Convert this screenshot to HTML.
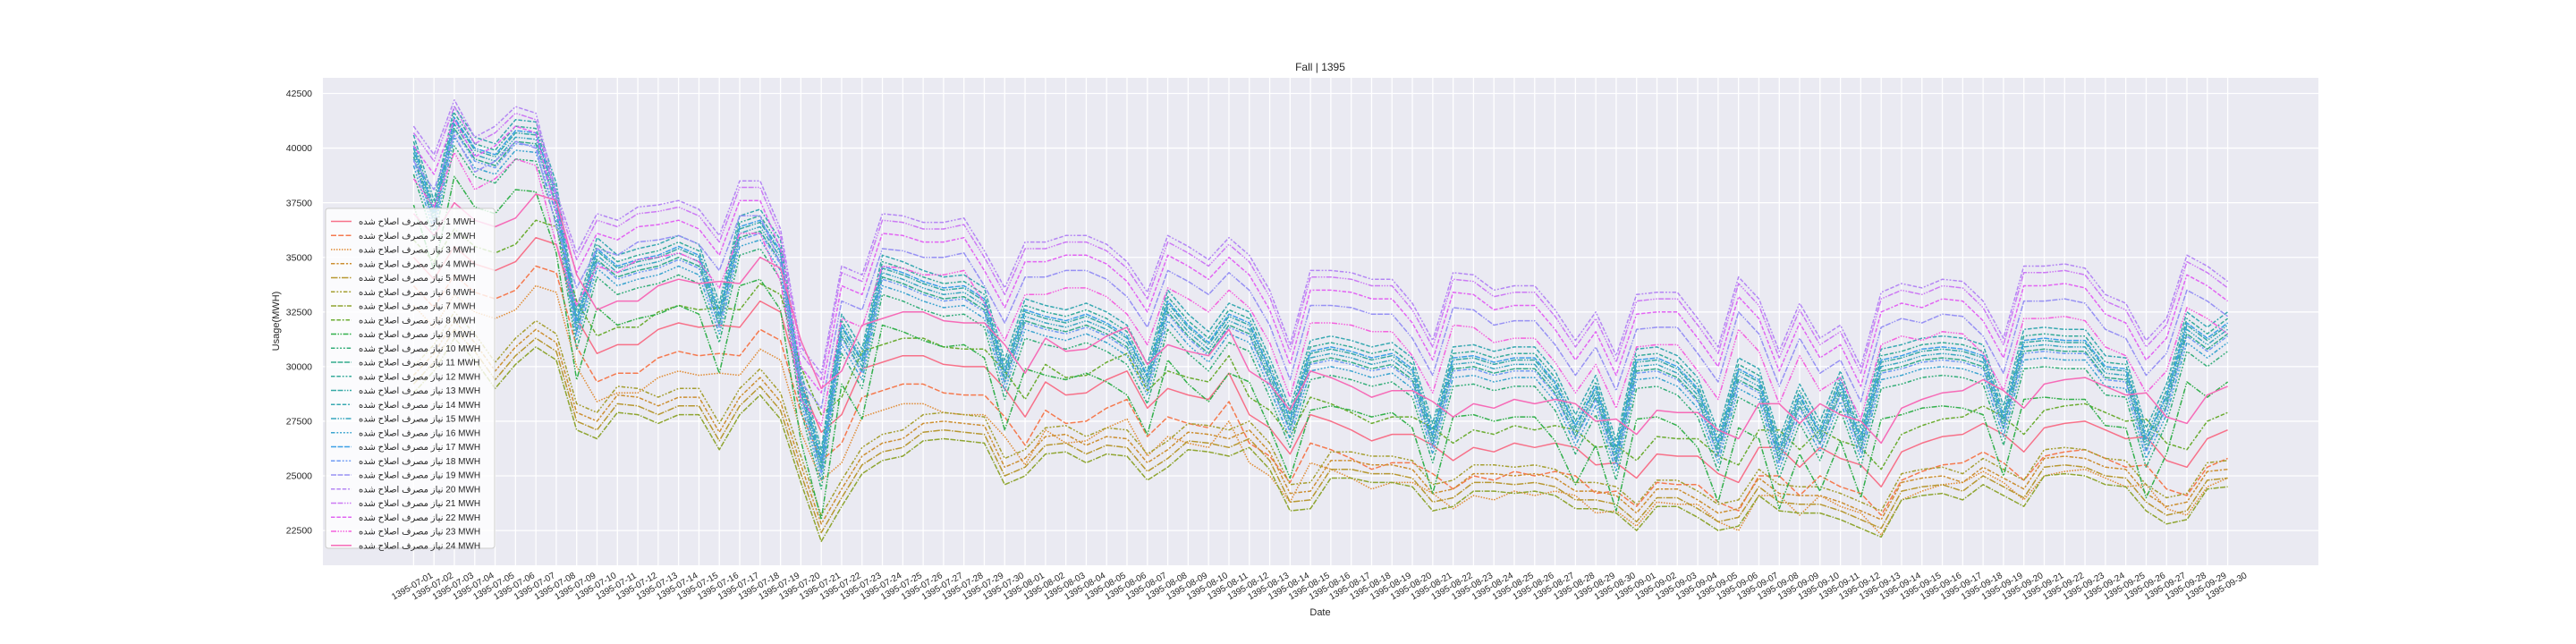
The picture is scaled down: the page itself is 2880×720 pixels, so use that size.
<!DOCTYPE html>
<html><head><meta charset="utf-8"><title>Fall | 1395</title>
<style>
html,body{margin:0;padding:0;background:#fff;}
svg{display:block;font-family:"Liberation Sans","DejaVu Sans",sans-serif;}
</style></head>
<body>
<svg id="chart" width="2880" height="720" viewBox="0 0 2880 720" xmlns="http://www.w3.org/2000/svg">
<rect x="0" y="0" width="2880" height="720" fill="#ffffff"/>
<rect id="plotbg" x="361" y="87" width="2231" height="545" fill="#eaeaf2"/>
<g id="grid"></g>
<g id="series"></g>
<g id="yticks"></g>
<g id="xticks"></g>
<text x="1476" y="79" text-anchor="middle" font-size="12" fill="#262626">Fall | 1395</text>
<text x="1476" y="688" text-anchor="middle" font-size="11" fill="#262626">Date</text>
<text x="312" y="359" text-anchor="middle" font-size="11" fill="#262626" transform="rotate(-90 312 359)">Usage(MWH)</text>
<g id="legend"></g>
</svg>
<script>
const yTicks = [22500, 25000, 27500, 30000, 32500, 35000, 37500, 40000, 42500];
const seriesLabels = ["1","2","3","4","5","6","7","8","9","10","11","12","13","14","15","16","17","18","19","20","21","22","23","24"];
const h1 = [35.0,34.0,35.5,34.7,34.4,34.8,35.9,35.6,32.2,30.6,31.0,31.0,31.7,32.0,31.8,31.9,31.8,33.0,32.5,29.2,27.0,27.8,29.9,30.2,30.5,30.5,30.1,30.0,30.0,29.0,27.7,29.3,28.7,28.8,29.4,29.8,28.1,29.0,28.7,28.5,29.7,27.8,27.2,26.0,27.8,27.5,27.1,26.6,26.9,26.9,26.4,25.7,26.3,26.1,26.5,26.3,26.5,26.3,25.5,25.6,24.9,26.0,25.9,25.9,25.1,24.7,26.3,26.3,25.4,26.3,25.8,25.5,24.5,26.1,26.5,26.8,26.9,27.4,26.9,26.1,27.2,27.4,27.5,27.1,26.7,26.8,25.7,25.4,26.7,27.1];
const h2 = [33.7,32.7,34.2,33.4,33.1,33.5,34.6,34.3,30.9,29.3,29.7,29.7,30.4,30.7,30.5,30.6,30.5,31.7,31.2,27.9,25.7,26.5,28.6,28.9,29.2,29.2,28.8,28.7,28.7,27.7,26.4,28.0,27.4,27.5,28.1,28.5,26.8,27.7,27.4,27.2,28.4,26.5,25.9,24.7,26.5,26.2,25.8,25.3,25.6,25.6,25.1,24.4,25.0,24.8,25.2,25.0,25.2,25.0,24.2,24.3,23.6,24.7,24.6,24.6,23.8,23.4,25.0,25.0,24.1,25.0,24.5,24.2,23.2,24.8,25.2,25.5,25.6,26.1,25.6,24.8,25.9,26.1,26.2,25.8,25.4,25.5,24.4,24.1,25.4,25.8];
const h3 = [32.8,31.8,33.3,32.5,32.2,32.6,33.7,33.4,30.0,28.4,28.8,28.8,29.5,29.8,29.6,29.7,29.6,30.8,30.3,27.0,24.8,25.6,27.7,28.0,28.3,28.3,27.9,27.8,27.8,26.8,25.5,27.1,26.5,26.6,27.2,27.6,25.9,26.8,26.5,26.3,27.5,25.6,25.0,23.8,25.6,25.3,24.9,24.4,24.7,24.7,24.2,23.5,24.1,23.9,24.3,24.1,24.3,24.1,23.3,23.4,22.7,23.8,23.7,23.7,22.9,22.5,24.1,24.1,23.2,24.1,23.6,23.3,22.3,23.9,24.3,24.6,24.7,25.2,24.7,23.9,25.0,25.2,25.3,24.9,24.5,24.6,23.5,23.2,24.5,24.9];
const h4 = [29.6,30.6,32.1,31.1,29.8,30.9,31.7,31.1,27.9,27.5,28.7,28.6,28.2,28.6,28.6,27.0,28.6,29.5,28.4,25.5,22.8,24.4,25.9,26.5,26.7,27.4,27.5,27.4,27.3,25.4,25.8,26.8,26.9,26.4,26.8,26.7,25.6,26.2,27.0,26.9,26.7,27.1,26.1,24.2,24.3,25.7,25.7,25.5,25.5,25.3,24.2,24.4,25.1,25.1,25.0,25.1,24.9,24.3,24.3,24.1,23.3,24.4,24.4,23.9,23.3,23.5,24.9,24.2,24.1,24.1,23.8,23.4,23.0,24.7,24.9,25.0,24.7,25.4,24.9,24.4,25.8,25.9,25.8,25.4,25.3,24.2,23.6,23.8,25.2,25.3];
const h5 = [29.2,30.2,31.7,30.7,29.4,30.5,31.3,30.7,27.5,27.1,28.3,28.2,27.8,28.2,28.2,26.6,28.2,29.1,28.0,25.1,22.4,24.0,25.5,26.1,26.3,27.0,27.1,27.0,26.9,25.0,25.4,26.4,26.5,26.0,26.4,26.3,25.2,25.8,26.6,26.5,26.3,26.7,25.7,23.8,23.9,25.3,25.3,25.1,25.1,24.9,23.8,24.0,24.7,24.7,24.6,24.7,24.5,23.9,23.9,23.7,22.9,24.0,24.0,23.5,22.9,23.1,24.5,23.8,23.7,23.7,23.4,23.0,22.6,24.3,24.5,24.6,24.3,25.0,24.5,24.0,25.4,25.5,25.4,25.0,24.9,23.8,23.2,23.4,24.8,24.9];
const h6 = [30.0,31.0,32.5,31.5,30.2,31.3,32.1,31.5,28.3,27.9,29.1,29.0,28.6,29.0,29.0,27.4,29.0,29.9,28.8,25.9,23.2,24.8,26.3,26.9,27.1,27.8,27.9,27.8,27.7,25.8,26.2,27.2,27.3,26.8,27.2,27.1,26.0,26.6,27.4,27.3,27.1,27.5,26.5,24.6,24.7,26.1,26.1,25.9,25.9,25.7,24.6,24.8,25.5,25.5,25.4,25.5,25.3,24.7,24.7,24.5,23.7,24.8,24.8,24.3,23.7,23.9,25.3,24.6,24.5,24.5,24.2,23.8,23.4,25.1,25.3,25.4,25.1,25.8,25.3,24.8,26.2,26.3,26.2,25.8,25.7,24.6,24.0,24.2,25.6,25.7];
const h7 = [28.8,29.8,31.3,30.3,29.0,30.1,30.9,30.3,27.1,26.7,27.9,27.8,27.4,27.8,27.8,26.2,27.8,28.7,27.6,24.7,22.0,23.6,25.1,25.7,25.9,26.6,26.7,26.6,26.5,24.6,25.0,26.0,26.1,25.6,26.0,25.9,24.8,25.4,26.2,26.1,25.9,26.3,25.3,23.4,23.5,24.9,24.9,24.7,24.7,24.5,23.4,23.6,24.3,24.3,24.2,24.3,24.1,23.5,23.5,23.3,22.5,23.6,23.6,23.1,22.5,22.7,24.1,23.4,23.3,23.3,23.0,22.6,22.2,23.9,24.1,24.2,23.9,24.6,24.1,23.6,25.0,25.1,25.0,24.6,24.5,23.4,22.8,23.0,24.4,24.5];
const h8 = [35.8,34.8,36.3,35.5,35.2,35.6,36.7,36.4,33.0,31.4,31.8,31.8,32.5,32.8,32.6,32.7,32.6,33.8,33.3,30.0,27.8,28.6,30.7,31.0,31.3,31.3,30.9,30.8,30.8,29.8,28.5,30.1,29.5,29.6,30.2,30.6,28.9,29.8,29.5,29.3,30.5,28.6,28.0,26.8,28.6,28.3,27.9,27.4,27.7,27.7,27.2,26.5,27.1,26.9,27.3,27.1,27.3,27.1,26.3,26.4,25.7,26.8,26.7,26.7,25.9,25.5,27.1,27.1,26.2,27.1,26.6,26.3,25.3,26.9,27.3,27.6,27.7,28.2,27.7,26.9,28.0,28.2,28.3,27.9,27.5,27.6,26.5,26.2,27.5,27.9];
const h9 = [37.4,34.4,38.7,37.3,37.0,38.1,38.0,35.2,29.4,32.7,31.9,32.2,32.4,32.8,32.4,29.7,33.7,34.0,32.6,26.6,23.0,29.2,27.6,31.9,31.6,31.2,30.9,31.0,30.4,27.1,29.9,29.6,29.4,29.7,29.3,28.7,26.9,30.3,29.2,28.4,29.7,29.3,27.2,24.9,28.0,28.2,28.0,27.7,27.9,27.2,24.2,27.7,27.8,27.5,27.7,27.7,26.6,24.6,26.4,23.4,27.6,27.7,27.3,26.3,23.8,27.2,26.7,23.5,26.0,24.3,26.6,24.0,27.6,27.8,28.1,28.2,28.1,27.8,25.0,28.5,28.6,28.5,28.5,27.3,27.2,24.0,26.0,29.3,28.6,29.3];
const h10 = [38.8,35.8,40.1,38.7,38.4,39.5,39.4,36.6,30.8,34.1,33.3,33.6,33.8,34.2,33.8,31.1,35.1,35.4,34.0,28.0,24.4,30.6,29.0,33.3,33.0,32.6,32.3,32.4,31.8,28.5,31.3,31.0,30.8,31.1,30.7,30.1,28.3,31.7,30.6,29.8,31.1,30.7,28.6,26.3,29.4,29.6,29.4,29.1,29.3,28.6,25.6,29.1,29.2,28.9,29.1,29.1,28.0,26.0,27.8,24.8,29.0,29.1,28.7,27.7,25.2,28.6,28.1,24.9,27.4,25.7,28.0,25.4,29.0,29.2,29.5,29.6,29.5,29.2,26.4,29.9,30.0,29.9,29.9,28.7,28.6,25.4,27.4,30.7,30.0,30.7];
const h11 = [39.6,36.6,40.9,39.5,39.2,40.3,40.2,37.4,31.6,34.9,34.1,34.4,34.6,35.0,34.6,31.9,35.9,36.2,34.8,28.8,25.2,31.4,29.8,34.1,33.8,33.4,33.1,33.2,32.6,29.3,32.1,31.8,31.6,31.9,31.5,30.9,29.1,32.5,31.4,30.6,31.9,31.5,29.4,27.1,30.2,30.4,30.2,29.9,30.1,29.4,26.4,29.9,30.0,29.7,29.9,29.9,28.8,26.8,28.6,25.6,29.8,29.9,29.5,28.5,26.0,29.4,28.9,25.7,28.2,26.5,28.8,26.2,29.8,30.0,30.3,30.4,30.3,30.0,27.2,30.7,30.8,30.7,30.7,29.5,29.4,26.2,28.2,31.5,30.8,31.5];
const h12 = [40.3,37.3,41.6,40.2,39.9,41.0,40.9,38.1,32.3,35.6,34.8,35.1,35.3,35.7,35.3,32.6,36.6,36.9,35.5,29.5,25.9,32.1,30.5,34.8,34.5,34.1,33.8,33.9,33.3,30.0,32.8,32.5,32.3,32.6,32.2,31.6,29.8,33.2,32.1,31.3,32.6,32.2,30.1,27.8,30.9,31.1,30.9,30.6,30.8,30.1,27.1,30.6,30.7,30.4,30.6,30.6,29.5,27.5,29.3,26.3,30.5,30.6,30.2,29.2,26.7,30.1,29.6,26.4,28.9,27.2,29.5,26.9,30.5,30.7,31.0,31.1,31.0,30.7,27.9,31.4,31.5,31.4,31.4,30.2,30.1,26.9,28.9,32.2,31.5,32.2];
const h13 = [40.0,37.0,41.3,39.9,39.6,40.7,40.6,37.8,32.0,35.3,34.5,34.8,35.0,35.4,35.0,32.3,36.3,36.6,35.2,29.2,25.6,31.8,30.2,34.5,34.2,33.8,33.5,33.6,33.0,29.7,32.5,32.2,32.0,32.3,31.9,31.3,29.5,32.9,31.8,31.0,32.3,31.9,29.8,27.5,30.6,30.8,30.6,30.3,30.5,29.8,26.8,30.3,30.4,30.1,30.3,30.3,29.2,27.2,29.0,26.0,30.2,30.3,29.9,28.9,26.4,29.8,29.3,26.1,28.6,26.9,29.2,26.6,30.2,30.4,30.7,30.8,30.7,30.4,27.6,31.1,31.2,31.1,31.1,29.9,29.8,26.6,28.6,31.9,31.2,31.9];
const h14 = [40.6,37.6,41.9,40.5,40.2,41.3,41.2,38.4,32.6,35.9,35.1,35.4,35.6,36.0,35.6,32.9,36.9,37.2,35.8,29.8,26.2,32.4,30.8,35.1,34.8,34.4,34.1,34.2,33.6,30.3,33.1,32.8,32.6,32.9,32.5,31.9,30.1,33.5,32.4,31.6,32.9,32.5,30.4,28.1,31.2,31.4,31.2,30.9,31.1,30.4,27.4,30.9,31.0,30.7,30.9,30.9,29.8,27.8,29.6,26.6,30.8,30.9,30.5,29.5,27.0,30.4,29.9,26.7,29.2,27.5,29.8,27.2,30.8,31.0,31.3,31.4,31.3,31.0,28.2,31.7,31.8,31.7,31.7,30.5,30.4,27.2,29.2,32.5,31.8,32.5];
const h15 = [39.8,36.8,41.1,39.7,39.4,40.5,40.4,37.6,31.8,35.1,34.3,34.6,34.8,35.2,34.8,32.1,36.1,36.4,35.0,29.0,25.4,31.6,30.0,34.3,34.0,33.6,33.3,33.4,32.8,29.5,32.3,32.0,31.8,32.1,31.7,31.1,29.3,32.7,31.6,30.8,32.1,31.7,29.6,27.3,30.4,30.6,30.4,30.1,30.3,29.6,26.6,30.1,30.2,29.9,30.1,30.1,29.0,27.0,28.8,25.8,30.0,30.1,29.7,28.7,26.2,29.6,29.1,25.9,28.4,26.7,29.0,26.4,30.0,30.2,30.5,30.6,30.5,30.2,27.4,30.9,31.0,30.9,30.9,29.7,29.6,26.4,28.4,31.7,31.0,31.7];
const h16 = [39.2,36.2,40.5,39.1,38.8,39.9,39.8,37.0,31.2,34.5,33.7,34.0,34.2,34.6,34.2,31.5,35.5,35.8,34.4,28.4,24.8,31.0,29.4,33.7,33.4,33.0,32.7,32.8,32.2,28.9,31.7,31.4,31.2,31.5,31.1,30.5,28.7,32.1,31.0,30.2,31.5,31.1,29.0,26.7,29.8,30.0,29.8,29.5,29.7,29.0,26.0,29.5,29.6,29.3,29.5,29.5,28.4,26.4,28.2,25.2,29.4,29.5,29.1,28.1,25.6,29.0,28.5,25.3,27.8,26.1,28.4,25.8,29.4,29.6,29.9,30.0,29.9,29.6,26.8,30.3,30.4,30.3,30.3,29.1,29.0,25.8,27.8,31.1,30.4,31.1];
const h17 = [40.1,37.1,41.4,40.0,39.7,40.8,40.7,37.9,32.1,35.4,34.6,34.9,35.1,35.5,35.1,32.4,36.4,36.7,35.3,29.3,25.7,31.9,30.3,34.6,34.3,33.9,33.6,33.7,33.1,29.8,32.6,32.3,32.1,32.4,32.0,31.4,29.6,33.0,31.9,31.1,32.4,32.0,29.9,27.6,30.7,30.9,30.7,30.4,30.6,29.9,26.9,30.4,30.5,30.2,30.4,30.4,29.3,27.3,29.1,26.1,30.3,30.4,30.0,29.0,26.5,29.9,29.4,26.2,28.7,27.0,29.3,26.7,30.3,30.5,30.8,30.9,30.8,30.5,27.7,31.2,31.3,31.2,31.2,30.0,29.9,26.7,28.7,32.0,31.3,32.0];
const h18 = [39.5,36.5,40.8,39.4,39.1,40.2,40.1,37.3,31.5,34.8,34.0,34.3,34.5,34.9,34.5,31.8,35.8,36.1,34.7,28.7,25.1,31.3,29.7,34.0,33.7,33.3,33.0,33.1,32.5,29.2,32.0,31.7,31.5,31.8,31.4,30.8,29.0,32.4,31.3,30.5,31.8,31.4,29.3,27.0,30.1,30.3,30.1,29.8,30.0,29.3,26.3,29.8,29.9,29.6,29.8,29.8,28.7,26.7,28.5,25.5,29.7,29.8,29.4,28.4,25.9,29.3,28.8,25.6,28.1,26.4,28.7,26.1,29.7,29.9,30.2,30.3,30.2,29.9,27.1,30.6,30.7,30.6,30.6,29.4,29.3,26.1,28.1,31.4,30.7,31.4];
const h19 = [39.4,38.1,40.6,38.9,39.4,40.3,40.0,36.4,33.6,35.4,35.1,35.7,35.8,36.0,35.6,34.4,36.9,36.9,34.7,29.3,28.1,33.0,32.6,35.4,35.3,35.0,35.0,35.2,33.7,32.0,34.1,34.1,34.4,34.4,34.0,33.2,31.8,34.4,33.9,33.3,34.3,33.5,31.9,29.4,32.8,32.8,32.7,32.4,32.4,31.3,29.6,32.7,32.6,31.9,32.1,32.1,31.0,29.6,30.9,28.9,31.7,31.8,31.8,30.6,29.3,32.5,31.5,29.1,31.3,29.7,30.3,28.4,31.8,32.2,32.0,32.4,32.3,31.4,29.7,33.0,33.0,33.1,32.9,31.7,31.3,29.6,30.6,33.5,33.0,32.3];
const h20 = [41.0,39.7,42.2,40.5,41.0,41.9,41.6,38.0,35.2,37.0,36.7,37.3,37.4,37.6,37.2,36.0,38.5,38.5,36.3,30.9,29.7,34.6,34.2,37.0,36.9,36.6,36.6,36.8,35.3,33.6,35.7,35.7,36.0,36.0,35.6,34.8,33.4,36.0,35.5,34.9,35.9,35.1,33.5,31.0,34.4,34.4,34.3,34.0,34.0,32.9,31.2,34.3,34.2,33.5,33.7,33.7,32.6,31.2,32.5,30.5,33.3,33.4,33.4,32.2,30.9,34.1,33.1,30.7,32.9,31.3,31.9,30.0,33.4,33.8,33.6,34.0,33.9,33.0,31.3,34.6,34.6,34.7,34.5,33.3,32.9,31.2,32.2,35.1,34.6,33.9];
const h21 = [40.7,39.4,41.9,40.2,40.7,41.6,41.3,37.7,34.9,36.7,36.4,37.0,37.1,37.3,36.9,35.7,38.2,38.2,36.0,30.6,29.4,34.3,33.9,36.7,36.6,36.3,36.3,36.5,35.0,33.3,35.4,35.4,35.7,35.7,35.3,34.5,33.1,35.7,35.2,34.6,35.6,34.8,33.2,30.7,34.1,34.1,34.0,33.7,33.7,32.6,30.9,34.0,33.9,33.2,33.4,33.4,32.3,30.9,32.2,30.2,33.0,33.1,33.1,31.9,30.6,33.8,32.8,30.4,32.6,31.0,31.6,29.7,33.1,33.5,33.3,33.7,33.6,32.7,31.0,34.3,34.3,34.4,34.2,33.0,32.6,30.9,31.9,34.8,34.3,33.6];
const h22 = [40.1,38.8,41.3,39.6,40.1,41.0,40.7,37.1,34.3,36.1,35.8,36.4,36.5,36.7,36.3,35.1,37.6,37.6,35.4,30.0,28.8,33.7,33.3,36.1,36.0,35.7,35.7,35.9,34.4,32.7,34.8,34.8,35.1,35.1,34.7,33.9,32.5,35.1,34.6,34.0,35.0,34.2,32.6,30.1,33.5,33.5,33.4,33.1,33.1,32.0,30.3,33.4,33.3,32.6,32.8,32.8,31.7,30.3,31.6,29.6,32.4,32.5,32.5,31.3,30.0,33.2,32.2,29.8,32.0,30.4,31.0,29.1,32.5,32.9,32.7,33.1,33.0,32.1,30.4,33.7,33.7,33.8,33.6,32.4,32.0,30.3,31.3,34.2,33.7,33.0];
const h23 = [38.6,37.3,39.8,38.1,38.6,39.5,39.2,35.6,32.8,34.6,34.3,34.9,35.0,35.2,34.8,33.6,36.1,36.1,33.9,28.5,27.3,32.2,31.8,34.6,34.5,34.2,34.2,34.4,32.9,31.2,33.3,33.3,33.6,33.6,33.2,32.4,31.0,33.6,33.1,32.5,33.5,32.7,31.1,28.6,32.0,32.0,31.9,31.6,31.6,30.5,28.8,31.9,31.8,31.1,31.3,31.3,30.2,28.8,30.1,28.1,30.9,31.0,31.0,29.8,28.5,31.7,30.7,28.3,30.5,28.9,29.5,27.6,31.0,31.4,31.2,31.6,31.5,30.6,28.9,32.2,32.2,32.3,32.1,30.9,30.5,28.8,29.8,32.7,32.2,31.5];
const h24 = [37.0,36.0,37.5,36.7,36.4,36.8,37.9,37.6,34.2,32.6,33.0,33.0,33.7,34.0,33.8,33.9,33.8,35.0,34.5,31.2,29.0,29.8,31.9,32.2,32.5,32.5,32.1,32.0,32.0,31.0,29.7,31.3,30.7,30.8,31.4,31.8,30.1,31.0,30.7,30.5,31.7,29.8,29.2,28.0,29.8,29.5,29.1,28.6,28.9,28.9,28.4,27.7,28.3,28.1,28.5,28.3,28.5,28.3,27.5,27.6,26.9,28.0,27.9,27.9,27.1,26.7,28.3,28.3,27.4,28.3,27.8,27.5,26.5,28.1,28.5,28.8,28.9,29.4,28.9,28.1,29.2,29.4,29.5,29.1,28.7,28.8,27.7,27.4,28.7,29.1];

const series = [h1,h2,h3,h4,h5,h6,h7,h8,h9,h10,h11,h12,h13,h14,h15,h16,h17,h18,h19,h20,h21,h22,h23,h24];
const colors = ['#f77189','#f57a4f','#e08a31','#cc8f31','#b79831','#a59f31','#8fa531','#6bac31','#33b04c','#34ae79','#35ac8d','#36ab9a','#37aaa6','#38a9b1','#39a7be','#3ba4cf','#3da0e6','#6e9bf4','#9791f4','#b486f4','#cc7af4','#e264f3','#f461dd','#f66bb7'];
const dashes = ["", "4,1.5", "1,1", "3,1.25,1.5,1.25", "5,1,1,1",
 "3,1.25,1.25,1.25,1.25,1.25", "4,1,4,1,1,1", "3,1.25,3,1.25,1.25,1.25", "4,1,1,1,1,1",
 "3,1.25,1.25,1.25,1.25,1.25,1.25,1.25", "4,1,4,1,4,1,1,1", "3,1.25,3,1.25,1.25,1.25,1.25,1.25",
 "4,1,4,1,1,1,1,1", "3,1.25,3,1.25,3,1.25,1.25,1.25", "4,1,1,1,1,1,1,1",
 "3,1.25,1.25,1.25,1.25,1.25,1.25,1.25,1.25,1.25", "4,1,4,1,4,1,4,1,1,1",
 "3,1.25,3,1.25,1.25,1.25,1.25,1.25,1.25,1.25", "4,1,4,1,4,1,1,1,1,1",
 "3,1.25,3,1.25,3,1.25,1.25,1.25,1.25,1.25", "4,1,4,1,1,1,1,1,1,1",
 "3,1.25,3,1.25,3,1.25,3,1.25,1.25,1.25", "4,1,1,1,1,1,1,1,1,1"];

const NS = "http://www.w3.org/2000/svg";
const PL = 361, PR = 2592, PT = 87, PB = 632;
const nDays = h1.length;
const xMin = -0.05 * (nDays - 1), xMax = (nDays - 1) * 1.05;
function xScale(i){ return PL + (i - xMin) / (xMax - xMin) * (PR - PL); }
function yScale(v){ return 104.5 + (42500 - v) * 0.02443; }
function dateLabel(i){
  const m = 7 + Math.floor(i / 30), d = (i % 30) + 1;
  return "1395-0" + m + "-" + (d < 10 ? "0" + d : d);
}
function mk(tag, attrs, parent){
  const el = document.createElementNS(NS, tag);
  for (const k in attrs) el.setAttribute(k, attrs[k]);
  parent.appendChild(el);
  return el;
}
const grid = document.getElementById('grid');
const yt = document.getElementById('yticks');
const xt = document.getElementById('xticks');
yTicks.forEach(v => {
  const y = yScale(v);
  const gl = mk('line', {x1:PL, x2:PR, y1:y, y2:y, stroke:'#ffffff', 'stroke-width':1.3}, grid);
  
  
  const t = mk('text', {x:349, y:y + 3.6, 'text-anchor':'end', 'font-size':10.5, fill:'#262626'}, yt);
  t.textContent = String(v);
  
  
});
const LY = 658;
for (let i = 0; i < nDays; i++) {
  const x = xScale(i);
  const gl = mk('line', {x1:x, x2:x, y1:PT, y2:PB, stroke:'#ffffff', 'stroke-width':1.3}, grid);
  
  
  const t = mk('text', {x:x, y:LY, 'text-anchor':'middle', 'font-size':10, fill:'#262626', transform:'rotate(-30 ' + x + ' ' + LY + ')'}, xt);
  t.textContent = dateLabel(i);
  
  
}
const sg = document.getElementById('series');
series.forEach((arr, s) => {
  const pts = arr.map((v, i) => xScale(i).toFixed(1) + ',' + yScale(v * 1000).toFixed(1)).join(' ');
  const attrs = {points:pts, fill:'none', stroke:colors[s], 'stroke-width':1.5, 'stroke-linejoin':'round'};
  if (dashes[s]) attrs['stroke-dasharray'] = dashes[s].split(',').map(d => (parseFloat(d) * 1.5).toFixed(2)).join(',');
  const pl = mk('polyline', attrs, sg);
  
  
});
const lg = document.getElementById('legend');
const box = mk('rect', {x:364, y:233, width:189, height:380, rx:3, fill:'#ffffff', 'fill-opacity':0.8, stroke:'#cccccc', 'stroke-width':1}, lg);


seriesLabels.forEach((lab, s) => {
  const y = 247.5 + s * 15.75;
  const attrs = {x1:370, x2:393, y1:y, y2:y, stroke:colors[s], 'stroke-width':1.5};
  if (dashes[s]) attrs['stroke-dasharray'] = dashes[s].split(',').map(d => (parseFloat(d) * 1.5).toFixed(2)).join(',');
  const ln = mk('line', attrs, lg);
  
  
  const t = mk('text', {x:401, y:y + 3.6, 'font-size':10, fill:'#262626', direction:'ltr'}, lg);
  
  
  const a = document.createElementNS(NS, 'tspan');
  a.setAttribute('style', 'unicode-bidi:isolate');
  a.textContent = 'نیاز مصرف اصلاح شده';
  t.appendChild(a);
  const b = document.createElementNS(NS, 'tspan');
  b.textContent = ' ' + lab + ' MWH';
  t.appendChild(b);
});
</script>
</body></html>
